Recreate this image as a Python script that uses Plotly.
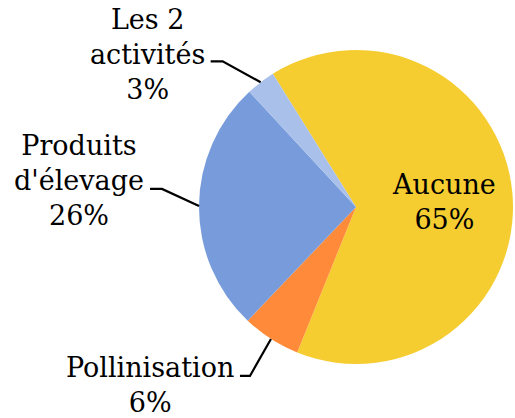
import math
import plotly.graph_objects as go

# ---- data ----
categories = ["Aucune", "Pollinisation", "Produits d'élevage", "Les 2 activités"]
values = [65, 6, 26, 3]
label_lines = ["Aucune", "Pollinisation", "Produits<br>d'élevage", "Les 2<br>activités"]

# ---- style ----
colors = ["#F5CD30", "#FF8B3A", "#789CDB", "#A9C0EA"]
W, H = 515, 418
CX, CY, R = 356, 207, 157          # pie centre / radius in pixels
ROTATION = -32                      # start angle (deg, clockwise from 12 o'clock)
FONT = dict(family="DejaVu Serif", size=27, color="black")
TEXT_DY = 3                         # nudge all label text down (px)

# per-slice label placement: ("inside", radial fraction) or
# ("outside", elbow offset from edge, horizontal segment length, text y offset)
label_style = [
    ("inside", 0.56),
    ("outside", (-21, 37), 10, 6),
    ("outside", (-37, -17), 12, -11),
    ("outside", (-38, -21), 12, -10),
]


def px(x):
    return x / W


def py(y):
    return 1 - y / H


fig = go.Figure(go.Pie(
    labels=categories,
    values=values,
    sort=False,
    direction="clockwise",
    rotation=ROTATION,
    marker=dict(colors=colors, line=dict(width=0)),
    textinfo="none",
    hoverinfo="label+percent",
    showlegend=False,
    domain=dict(x=[px(CX - R), px(CX + R)], y=[py(CY + R), py(CY - R)]),
))

total = sum(values)
angle = ROTATION
annotations, shapes = [], []
for cat_lines, v, st in zip(label_lines, values, label_style):
    span = 360.0 * v / total
    mid = math.radians(angle + span / 2)
    angle += span
    pct = f"{round(100 * v / total)}%"
    text = f"{cat_lines}<br>{pct}"
    sx, sy = math.sin(mid), -math.cos(mid)
    if st[0] == "inside":
        lx, ly = CX + st[1] * R * sx, CY + st[1] * R * sy
        annotations.append(dict(x=px(lx), y=py(ly + TEXT_DY), xref="paper", yref="paper",
                                text=text, showarrow=False, font=FONT,
                                align="center", xanchor="center", yanchor="middle"))
    else:
        (ox, oy), hlen, ty = st[1], st[2], st[3]
        ex, ey = CX + R * sx, CY + R * sy
        bx, by = ex + ox, ey + oy
        hx = bx - hlen
        shapes.append(dict(type="path", xref="paper", yref="paper",
                           path=f"M {px(ex)} {py(ey)} L {px(bx)} {py(by)} L {px(hx)} {py(by)}",
                           line=dict(color="black", width=2.2)))
        annotations.append(dict(x=px(hx - 4), y=py(by + ty + TEXT_DY), xref="paper", yref="paper",
                                text=text, showarrow=False, font=FONT,
                                align="center", xanchor="right", yanchor="middle"))

fig.update_layout(
    width=W, height=H,
    margin=dict(l=0, r=0, t=0, b=0),
    paper_bgcolor="white", plot_bgcolor="white",
    annotations=annotations, shapes=shapes,
)

fig.write_html("out.html",
               config={"displayModeBar": False},
               post_script="document.body.style.margin='0';document.body.style.overflow='hidden';")
